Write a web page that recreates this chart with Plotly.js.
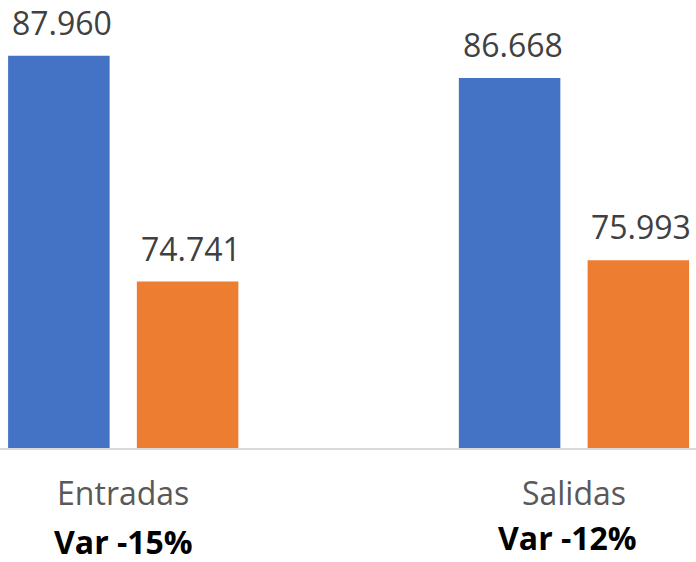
<!DOCTYPE html>
<html>
<head>
<meta charset="utf-8">
<script src="https://cdn.plot.ly/plotly-3.0.1.min.js"></script>
<style>html,body{margin:0;padding:0;background:#fff;}#chart{width:696px;height:562px;}</style>
</head>
<body>
<div id="chart"></div>
<script>
// ---- data ----
var categories = ['Entradas', 'Salidas'];
var seriesA = [87960, 86668];   // blue
var seriesB = [74741, 75993];   // orange
var varLabels = ['Var -15%', 'Var -12%'];

// ---- layout constants ----
var W = 696, H = 562;
var margin = {l: 0, r: 0, t: 21, b: 114};
var xRange = [-0.2734, 1.2707];
var yRange = [65000, 90000];
var bargap = 0.4287, bargroupgap = 0.2117;
var FONT = '"Open Sans", "Noto Sans", sans-serif';
var varPos = [{y: -0.2178, xshift: 0}, {y: -0.2090, xshift: -6}];

var catPx = (W - margin.l - margin.r) / (xRange[1] - xRange[0]);
var slotPx = catPx * (1 - bargap) / 2;

function fmt(v) {
  return String(Math.round(v)).replace(/\B(?=(\d{3})+(?!\d))/g, '.');
}

var traces = [
  {type: 'bar', x: categories, y: seriesA, marker: {color: '#4472c4'}, hoverinfo: 'none'},
  {type: 'bar', x: categories, y: seriesB, marker: {color: '#ed7d31'}, hoverinfo: 'none'}
];

var annotations = [];
[seriesA, seriesB].forEach(function (s, k) {
  s.forEach(function (v, i) {
    annotations.push({
      x: i, y: v, xref: 'x', yref: 'y',
      text: fmt(v),
      showarrow: false, yanchor: 'bottom', xanchor: 'center',
      xshift: (k === 0 ? -1 : 1) * slotPx / 2 + 3, yshift: 10,
      font: {family: FONT, size: 32, color: '#404040'}
    });
  });
});
varLabels.forEach(function (t, i) {
  annotations.push({
    x: i, xref: 'x', y: varPos[i].y, yref: 'paper',
    xshift: varPos[i].xshift,
    text: '<b>' + t + '</b>', showarrow: false,
    xanchor: 'center', yanchor: 'middle',
    font: {family: FONT, size: 32, color: '#000000'}
  });
});

var layout = {
  width: W, height: H, margin: margin,
  paper_bgcolor: '#ffffff', plot_bgcolor: '#ffffff',
  separators: ',.',
  showlegend: false,
  barmode: 'group', bargap: bargap, bargroupgap: bargroupgap,
  xaxis: {
    type: 'category', range: xRange, fixedrange: true,
    showline: true, linecolor: '#d9d9d9', linewidth: 1.5,
    showgrid: false, zeroline: false, ticks: '',
    ticklabelstandoff: 17,
    tickfont: {family: FONT, size: 32, color: '#595959'}
  },
  yaxis: {range: yRange, visible: false, fixedrange: true},
  annotations: annotations
};

Plotly.newPlot('chart', traces, layout, {displayModeBar: false, staticPlot: true});
</script>
</body>
</html>
